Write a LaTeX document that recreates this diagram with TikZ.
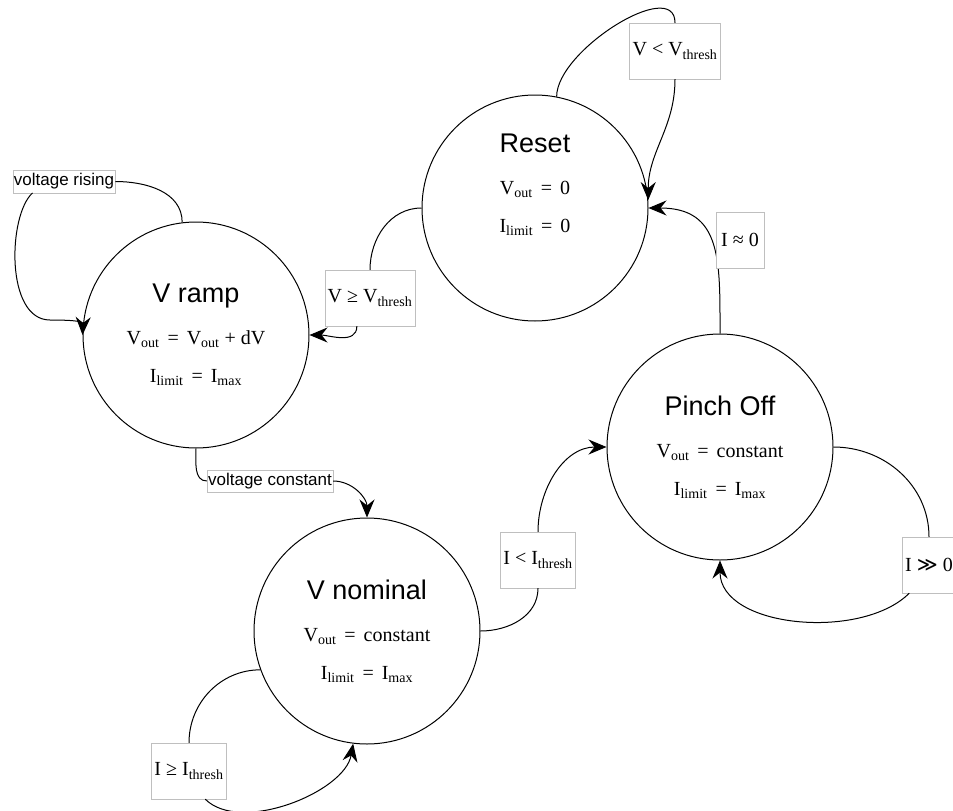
\documentclass[tikz,border=0pt]{standalone}
\usepackage{fontspec}
\setmainfont{Liberation Serif}
\setsansfont{Liberation Sans}
\newfontfamily\symfont{DejaVu Sans}
\usepackage{tikz}
\usetikzlibrary{arrows.meta}

\newcommand{\statename}[1]{{\sffamily\fontsize{27}{30}\selectfont #1}}
\newcommand{\rel}[1]{\hspace{0.4em}#1\hspace{0.4em}}

\begin{document}
\begin{tikzpicture}[
    x=1pt, y=1pt,
    state/.style={circle, draw, line width=1pt, minimum size=226pt, inner sep=0pt, align=center, font=\fontsize{20}{38}\selectfont},
    lbl/.style={rectangle, draw=black!25, fill=white, minimum width=48pt, minimum height=56pt, inner xsep=3pt, font=\fontsize{20}{24}\selectfont},
    tag/.style={rectangle, draw=black!25, fill=white, inner xsep=1pt, minimum height=22pt, font=\sffamily\fontsize{17}{20}\selectfont},
    arrow/.style={-{Stealth[length=18pt, width=15pt, inset=6pt]}, line width=1pt}
]
    \useasboundingbox (0,0) rectangle (953,-811);

    % States
    \node[state] (reset) at (535,-208) {\statename{Reset}\\[4pt] V\textsubscript{out}\rel{=}0\\ I\textsubscript{limit}\rel{=}0\\[12pt] \phantom{I}};
    \node[state] (vramp) at (196,-335) {\statename{V ramp}\\[4pt] V\textsubscript{out}\rel{=}V\textsubscript{out} + dV\\ I\textsubscript{limit}\rel{=}I\textsubscript{max}};
    \node[state] (pinch) at (720,-447) {\statename{Pinch Off}\\[4pt] V\textsubscript{out}\rel{=}constant\\ I\textsubscript{limit}\rel{=}I\textsubscript{max}};
    \node[state] (vnom) at (367,-631) {\statename{V nominal}\\[4pt] V\textsubscript{out}\rel{=}constant\\ I\textsubscript{limit}\rel{=}I\textsubscript{max}};

    % Pinch Off back to Reset (label sits over it)
    \draw[arrow] (pinch.north) to[out=90, in=0, looseness=1.3] (reset.east);

    % Transition labels
    \node[lbl] (lvlt) at (675,-51) {V < V\textsubscript{thresh}};
    \node[lbl] (lvge) at (370,-298) {V ≥ V\textsubscript{thresh}};
    \node[lbl] (lapprox) at (740,-240) {I ≈ 0};
    \node[lbl] (lgg) at (929,-565) {I {\symfont ≫} 0};
    \node[lbl] (llt) at (538,-560) {I < I\textsubscript{thresh}};
    \node[lbl] (lge) at (189,-771) {I ≥ I\textsubscript{thresh}};
    \node[tag] (lrise) at (64,-181.5) {voltage rising};
    \node[tag] (lconst) at (270,-481) {voltage constant};

    % Transitions
    \draw[arrow] (reset.79) to[out=90, in=90, looseness=0.85] (lvlt) (lvlt) to[out=-90, in=90] (reset.4);
    \draw[arrow] (reset.west) to[out=180, in=90] (lvge) (lvge.245) to[out=-90, in=0] (vramp.east);
    \draw[arrow] (vramp.97) to[out=90, in=0] (lrise) (lrise.200) .. controls (8,-215) and (5,-320) .. (50,-320) .. controls (78,-320) and (83,-322) .. (vramp.west);
    \draw[arrow] (vramp.south) to[out=-90, in=180] (lconst) (lconst) to[out=0, in=90] (vnom.north);
    \draw[arrow] (vnom.east) to[out=0, in=-90] (llt) (llt) to[out=90, in=180] (pinch.west);
    \draw[arrow] (pinch.east) to[out=0, in=90] (lgg) (lgg.235) to[out=225, in=-90, looseness=0.9] (pinch.south);
    \draw[arrow] (vnom.200) to[out=180, in=90] (lge) (lge.300) to[out=-45, in=-100, looseness=0.8] (vnom.-97);
\end{tikzpicture}
\end{document}
